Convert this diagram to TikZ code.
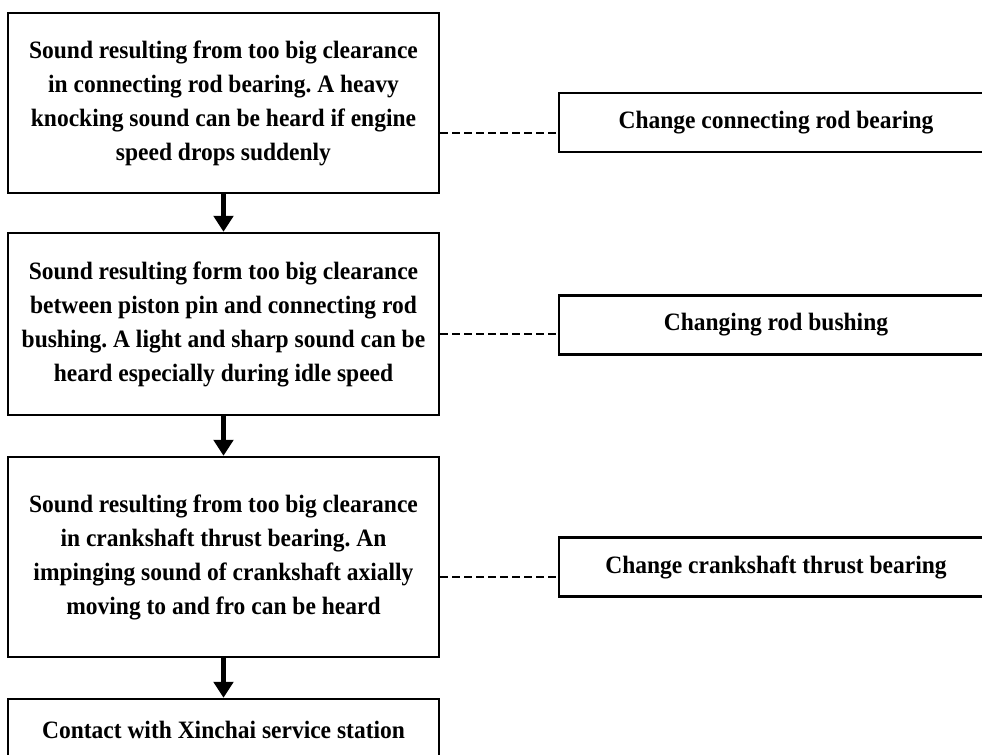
\documentclass[tikz,border=0pt]{standalone}
\usepackage{fontspec}
\setmainfont{Liberation Serif}[FakeStretch=0.94]
\usetikzlibrary{arrows.meta}
\frenchspacing
\tikzset{
  box/.style={draw, line width=1.8pt, inner sep=0pt, align=center,
    font=\fontsize{18.75pt}{25.5pt}\selectfont\bfseries},
  causebox/.style={box, minimum width=323.25pt},
  fixbox/.style={box, minimum width=325.5pt, minimum height=44.5pt},
  flow/.style={line width=3.2pt, -{Triangle[width=14.5pt,length=12pt]}},
  link/.style={line width=2pt, dash pattern=on 6pt off 3pt}
}
\begin{document}
\begin{tikzpicture}[x=0.75pt,y=-0.75pt]
    \useasboundingbox (0,0) rectangle (982,754);
    % causes
    \node[causebox, minimum height=135pt] (cause1) at (223.5,103)
      {Sound resulting from too big clearance\\ in connecting rod bearing. A heavy\\
       knocking sound can be heard if engine\\ speed drops suddenly};
    \node[causebox, minimum height=136.5pt] (cause2) at (223.5,324)
      {Sound resulting form too big clearance\\ between piston pin and connecting rod\\
       bushing. A light and sharp sound can be\\ heard especially during idle speed};
    \node[causebox, minimum height=150pt] (cause3) at (223.5,557)
      {Sound resulting from too big clearance\\ in crankshaft thrust bearing. An\\
       impinging sound of crankshaft axially\\ moving to and fro can be heard};
    \node[causebox, minimum height=46.5pt] (contact) at (223.5,730)
      {Contact with Xinchai service station};
    % remedies
    \node[fixbox] (fix1) at (776,122.5) {Change connecting rod bearing};
    \node[fixbox] (fix2) at (776,325) {Changing rod bushing};
    \node[fixbox] (fix3) at (776,567) {Change crankshaft thrust bearing};
    % fleches
    \draw[flow] (cause1.south) -- (cause2.north);
    \draw[flow] (cause2.south) -- (cause3.north);
    \draw[flow] (cause3.south) -- (contact.north);
    % liaisons en pointilles
    \coordinate (d1) at (0,133);
    \coordinate (d2) at (0,334);
    \coordinate (d3) at (0,577);
    \draw[link] (cause1.east |- d1) -- (fix1.west |- d1);
    \draw[link] (cause2.east |- d2) -- (fix2.west |- d2);
    \draw[link] (cause3.east |- d3) -- (fix3.west |- d3);
\end{tikzpicture}
\end{document}
